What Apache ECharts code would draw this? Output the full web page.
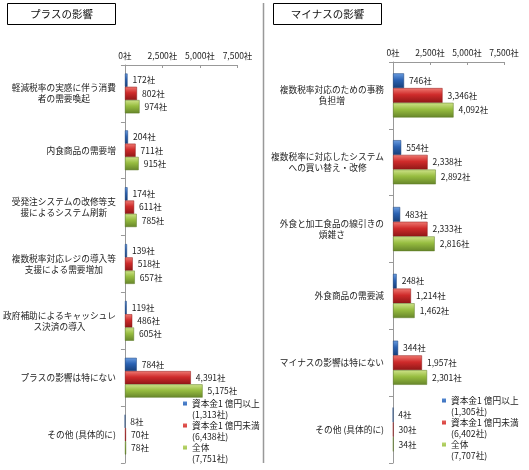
<!DOCTYPE html>
<html><head><meta charset="utf-8">
<script src="https://cdn.jsdelivr.net/npm/echarts@6/dist/echarts.min.js"></script>
<style>html,body{margin:0;padding:0;background:#fff}#c{width:529px;height:470px}</style>
</head><body><div id="c"></div>
<script>
const plusCategories = [
  '軽減税率の実感に伴う消費\n者の需要喚起',
  '内食商品の需要増',
  '受発注システムの改修等支\n援によるシステム刷新',
  '複数税率対応レジの導入等\n支援による需要増加',
  '政府補助によるキャッシュレ\nス決済の導入',
  'プラスの影響は特にない',
  'その他 (具体的に)'
];
const plusLarge = [172, 204, 174, 139, 119, 784, 8];
const plusSmall = [802, 711, 611, 518, 486, 4391, 70];
const plusTotal = [974, 915, 785, 657, 605, 5175, 78];

const minusCategories = [
  '複数税率対応のための事務\n負担増',
  '複数税率に対応したシステム\nへの買い替え・改修',
  '外食と加工食品の線引きの\n煩雑さ',
  '外食商品の需要減',
  'マイナスの影響は特にない',
  'その他 (具体的に)'
];
const minusLarge = [746, 554, 483, 248, 344, 4];
const minusSmall = [3346, 2338, 2333, 1214, 1957, 30];
const minusTotal = [4092, 2892, 2816, 1462, 2301, 34];

const seriesNames = ['資本金1 億円以上', '資本金1 億円未満', '全体'];
const plusCounts = ['1,313社', '6,438社', '7,751社'];
const minusCounts = ['1,305社', '6,402社', '7,707社'];
const axisMin = 0, axisMax = 7500, axisStep = 2500;
const panelTitles = ['プラスの影響', 'マイナスの影響'];

const FONT = '"Noto Sans CJK JP", "Noto Sans", sans-serif';
const TXT = '#222';
function grad(a, b, c) {
  return new echarts.graphic.LinearGradient(0, 0, 0, 1, [
    {offset: 0, color: a}, {offset: 0.45, color: b}, {offset: 1, color: c}
  ]);
}
const colors = [
  grad('#6b9de0', '#2b62b3', '#173f78'),
  grad('#ef7a72', '#cf2b2b', '#8f1717'),
  grad('#cfe38a', '#97bd40', '#66852a')
];
const borders = ['#173f78', '#8f1717', '#5d7a24'];
const fmt = v => v.toLocaleString('en-US') + '社';

function xAxis(gi) {
  return {
    type: 'value', gridIndex: gi, position: 'top', min: axisMin, max: axisMax, interval: axisStep,
    axisLine: {show: true, lineStyle: {color: '#999'}},
    axisTick: {show: true, inside: true, length: 3, lineStyle: {color: '#999'}},
    splitLine: {show: false},
    axisLabel: {formatter: fmt, fontSize: 8.5, color: TXT, margin: 5, fontFamily: FONT}
  };
}
function yAxis(gi, cats) {
  return {
    type: 'category', gridIndex: gi, data: cats, inverse: true,
    axisLine: {show: true, lineStyle: {color: '#999'}},
    axisTick: {show: true, length: 4, lineStyle: {color: '#999'}},
    axisLabel: {
      interval: 0, margin: 9, align: 'right', color: TXT, fontSize: 8.7, lineHeight: 11, fontFamily: FONT,
      formatter: v => v.split('\n').map(s => '{c|' + s + '}').join('\n'),
      rich: {c: {align: 'center', fontSize: 8.7, lineHeight: 11, color: TXT, fontFamily: FONT}}
    }
  };
}
function bars(gi, datas, gap) {
  return datas.map((d, i) => ({
    name: seriesNames[i], type: 'bar', xAxisIndex: gi, yAxisIndex: gi, data: d,
    barGap: '0%', barCategoryGap: gap,
    itemStyle: {color: colors[i], borderColor: borders[i], borderWidth: 0.5},
    label: {show: true, position: 'right', distance: 5, formatter: p => fmt(p.value),
      fontSize: 8.5, color: TXT, fontFamily: FONT},
    emphasis: {disabled: true}
  }));
}
const legIcon = 'path://M0,3.5L4,3.5L4,7.5L0,7.5Z M0,0L0.01,0L0.01,0.01Z M0,22L0.01,22L0.01,22.01Z';
function legend(left, top, counts) {
  return {
    data: seriesNames, orient: 'vertical', left: left, top: top, itemGap: 0, padding: 0,
    itemWidth: 4, itemHeight: 22, icon: legIcon, selectedMode: false,
    itemStyle: {borderWidth: 0},
    formatter: n => n + '\n(' + counts[seriesNames.indexOf(n)] + ')',
    textStyle: {fontSize: 8.7, lineHeight: 11, color: TXT, fontFamily: FONT}
  };
}

const chart = echarts.init(document.getElementById('c'));
chart.setOption({
  animation: false,
  textStyle: {fontFamily: FONT},
  grid: [
    {left: 122, top: 65, width: 115.5, height: 398},
    {left: 393, top: 62, width: 111, height: 401}
  ],
  xAxis: [xAxis(0), xAxis(1)],
  yAxis: [yAxis(0, plusCategories), yAxis(1, minusCategories)],
  legend: [legend(183, 398, plusCounts), legend(442, 395, minusCounts)],
  series: [].concat(
    bars(0, [plusLarge, plusSmall, plusTotal], '30%'),
    bars(1, [minusLarge, minusSmall, minusTotal], '34%')
  ),
  graphic: [
    {type: 'line', shape: {x1: 263.5, y1: 3, x2: 263.5, y2: 463}, style: {stroke: '#999', lineWidth: 1.5}},
    {type: 'rect', shape: {x: 7.5, y: 3.5, width: 108, height: 21}, style: {fill: '#fff', stroke: '#000', lineWidth: 1}},
    {type: 'text', x: 61.5, y: 14.5, style: {text: panelTitles[0], fontSize: 10.5, fill: '#111', align: 'center', verticalAlign: 'middle', fontFamily: FONT}},
    {type: 'rect', shape: {x: 273.5, y: 3.5, width: 108, height: 21}, style: {fill: '#fff', stroke: '#000', lineWidth: 1}},
    {type: 'text', x: 327.5, y: 14.5, style: {text: panelTitles[1], fontSize: 10.5, fill: '#111', align: 'center', verticalAlign: 'middle', fontFamily: FONT}}
  ]
});
</script>
</body></html>
